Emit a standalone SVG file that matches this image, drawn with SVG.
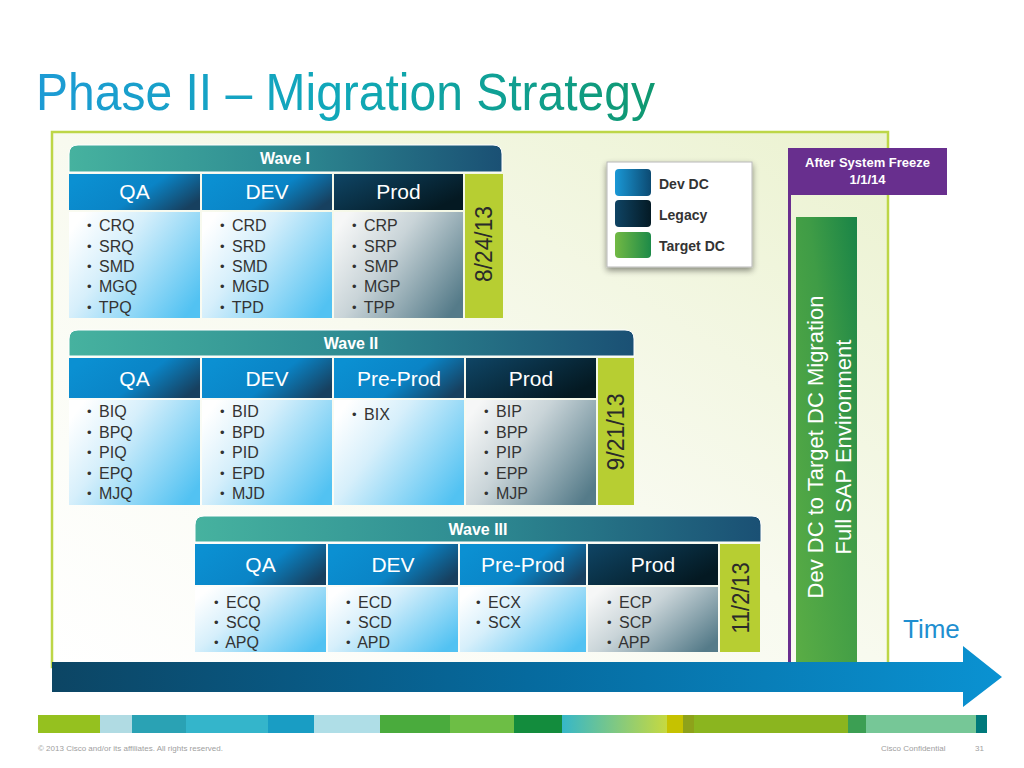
<svg xmlns="http://www.w3.org/2000/svg" width="1024" height="768" viewBox="0 0 1024 768">
<defs>
<linearGradient id="gTitle" gradientUnits="userSpaceOnUse" x1="36" y1="0" x2="655" y2="0"><stop offset="0" stop-color="#1d9bd5"/><stop offset="0.5" stop-color="#10a8b8"/><stop offset="1" stop-color="#0f9870"/></linearGradient>
<linearGradient id="gPanel" x1="0" y1="1" x2="1" y2="0"><stop offset="0" stop-color="#ffffff"/><stop offset="0.5" stop-color="#f8faef"/><stop offset="1" stop-color="#ebf2d0"/></linearGradient>
<linearGradient id="gWave" x1="0" y1="0" x2="1" y2="0"><stop offset="0" stop-color="#46b29f"/><stop offset="0.5" stop-color="#2e8b92"/><stop offset="1" stop-color="#1a5074"/></linearGradient>
<linearGradient id="gHdrBlue" x1="0" y1="0.3" x2="1" y2="0.7"><stop offset="0" stop-color="#0b90d2"/><stop offset="0.55" stop-color="#0a84c6"/><stop offset="1" stop-color="#17405f"/></linearGradient>
<linearGradient id="gHdrDark" x1="0" y1="0" x2="1" y2="0.6"><stop offset="0" stop-color="#0f4565"/><stop offset="1" stop-color="#041922"/></linearGradient>
<linearGradient id="gCellBlue" x1="0" y1="0.2" x2="1" y2="0.8"><stop offset="0" stop-color="#ffffff"/><stop offset="0.35" stop-color="#d6effb"/><stop offset="1" stop-color="#52c2f2"/></linearGradient>
<linearGradient id="gCellGray" x1="0" y1="0.2" x2="1" y2="0.8"><stop offset="0" stop-color="#f6f7f7"/><stop offset="0.4" stop-color="#c9d4d8"/><stop offset="1" stop-color="#557b89"/></linearGradient>
<linearGradient id="gArrow" x1="0" y1="0" x2="1" y2="0"><stop offset="0" stop-color="#0c4564"/><stop offset="0.5" stop-color="#066a9e"/><stop offset="1" stop-color="#0a92d2"/></linearGradient>
<linearGradient id="gGreen" x1="0" y1="1" x2="1" y2="0"><stop offset="0" stop-color="#5aad45"/><stop offset="0.6" stop-color="#3f9c46"/><stop offset="1" stop-color="#198447"/></linearGradient>
<linearGradient id="gLegDev" x1="0" y1="0" x2="1" y2="0"><stop offset="0" stop-color="#1a98d6"/><stop offset="1" stop-color="#0c4a72"/></linearGradient>
<linearGradient id="gLegLeg" x1="0" y1="0" x2="1" y2="0"><stop offset="0" stop-color="#0f4464"/><stop offset="1" stop-color="#041a25"/></linearGradient>
<linearGradient id="gLegTgt" x1="0" y1="0" x2="1" y2="0"><stop offset="0" stop-color="#72b944"/><stop offset="1" stop-color="#1d8a48"/></linearGradient>
<linearGradient id="gStrip" x1="0" y1="0" x2="1" y2="0"><stop offset="0" stop-color="#36b7c8"/><stop offset="1" stop-color="#c6d940"/></linearGradient>
<filter id="shadow" x="-20%" y="-20%" width="140%" height="150%"><feGaussianBlur in="SourceAlpha" stdDeviation="3"/><feOffset dx="0" dy="3"/><feComponentTransfer><feFuncA type="linear" slope="0.45"/></feComponentTransfer><feMerge><feMergeNode/><feMergeNode in="SourceGraphic"/></feMerge></filter>
</defs>
<style>
text{font-family:"Liberation Sans",Arial,sans-serif}
.wt{font-size:16px;font-weight:bold;fill:#fff;text-anchor:middle}
.ht{font-size:21px;fill:#fff;text-anchor:middle}
.bl{font-size:16px;fill:#333}
.b{font-size:13px}
.dt{font-size:23px;fill:#2a2a2a;text-anchor:middle}
.date{fill:#b7ce32}
.lg{font-size:14px;font-weight:bold;fill:#333}
.ft{font-size:8px;fill:#a0a0a0}
</style>
<rect width="1024" height="768" fill="#fff"/>
<text x="36" y="110" font-size="52" fill="url(#gTitle)" textLength="619" lengthAdjust="spacingAndGlyphs">Phase II – Migration Strategy</text>

<g id="panel">
<rect x="52" y="132" width="836" height="535" fill="url(#gPanel)" stroke="#bdd647" stroke-width="2.5"/>
</g>

<g id="wave1">
<path d="M69,172 L69,154 Q69,145 78,145 L493,145 Q502,145 502,154 L502,172 Z" fill="url(#gWave)" stroke="#fff" stroke-width="1"/>
<text class="wt" x="285" y="164">Wave I</text>
<rect x="69" y="174" width="131" height="36" fill="url(#gHdrBlue)"/>
<rect x="202" y="174" width="130" height="36" fill="url(#gHdrBlue)"/>
<rect x="334" y="174" width="129" height="36" fill="url(#gHdrDark)"/>
<text class="ht" x="134.5" y="199">QA</text>
<text class="ht" x="267" y="199">DEV</text>
<text class="ht" x="398.5" y="199">Prod</text>
<rect x="69" y="212" width="131" height="106" fill="url(#gCellBlue)"/>
<rect x="202" y="212" width="130" height="106" fill="url(#gCellBlue)"/>
<rect x="334" y="212" width="129" height="106" fill="url(#gCellGray)"/>
<text class="bl"><tspan class="b" x="87" y="230">•</tspan><tspan dx="3" y="231"> CRQ</tspan><tspan class="b" x="87" y="250.5">•</tspan><tspan dx="3" y="251.5"> SRQ</tspan><tspan class="b" x="87" y="271">•</tspan><tspan dx="3" y="272"> SMD</tspan><tspan class="b" x="87" y="291">•</tspan><tspan dx="3" y="292"> MGQ</tspan><tspan class="b" x="87" y="311.5">•</tspan><tspan dx="3" y="312.5"> TPQ</tspan></text>
<text class="bl"><tspan class="b" x="220" y="230">•</tspan><tspan dx="3" y="231"> CRD</tspan><tspan class="b" x="220" y="250.5">•</tspan><tspan dx="3" y="251.5"> SRD</tspan><tspan class="b" x="220" y="271">•</tspan><tspan dx="3" y="272"> SMD</tspan><tspan class="b" x="220" y="291">•</tspan><tspan dx="3" y="292"> MGD</tspan><tspan class="b" x="220" y="311.5">•</tspan><tspan dx="3" y="312.5"> TPD</tspan></text>
<text class="bl"><tspan class="b" x="352" y="230">•</tspan><tspan dx="3" y="231"> CRP</tspan><tspan class="b" x="352" y="250.5">•</tspan><tspan dx="3" y="251.5"> SRP</tspan><tspan class="b" x="352" y="271">•</tspan><tspan dx="3" y="272"> SMP</tspan><tspan class="b" x="352" y="291">•</tspan><tspan dx="3" y="292"> MGP</tspan><tspan class="b" x="352" y="311.5">•</tspan><tspan dx="3" y="312.5"> TPP</tspan></text>
<rect class="date" x="465" y="174" width="38" height="144"/>
<text class="dt" transform="translate(492,244) rotate(-90)" textLength="76" lengthAdjust="spacingAndGlyphs">8/24/13</text>
</g>

<g id="wave2">
<path d="M69,356 L69,339 Q69,330 78,330 L625,330 Q634,330 634,339 L634,356 Z" fill="url(#gWave)" stroke="#fff" stroke-width="1"/>
<text class="wt" x="351" y="349">Wave  II</text>
<rect x="69" y="358" width="131" height="40" fill="url(#gHdrBlue)"/>
<rect x="202" y="358" width="130" height="40" fill="url(#gHdrBlue)"/>
<rect x="334" y="358" width="130" height="40" fill="url(#gHdrBlue)"/>
<rect x="466" y="358" width="130" height="40" fill="url(#gHdrDark)"/>
<text class="ht" x="134.5" y="386">QA</text>
<text class="ht" x="267" y="386">DEV</text>
<text class="ht" x="399" y="386">Pre-Prod</text>
<text class="ht" x="531" y="386">Prod</text>
<rect x="69" y="400" width="131" height="105" fill="url(#gCellBlue)"/>
<rect x="202" y="400" width="130" height="105" fill="url(#gCellBlue)"/>
<rect x="334" y="400" width="130" height="105" fill="url(#gCellBlue)"/>
<rect x="466" y="400" width="130" height="105" fill="url(#gCellGray)"/>
<text class="bl"><tspan class="b" x="87" y="416">•</tspan><tspan dx="3" y="417"> BIQ</tspan><tspan class="b" x="87" y="436.5">•</tspan><tspan dx="3" y="437.5"> BPQ</tspan><tspan class="b" x="87" y="457">•</tspan><tspan dx="3" y="458"> PIQ</tspan><tspan class="b" x="87" y="477.5">•</tspan><tspan dx="3" y="478.5"> EPQ</tspan><tspan class="b" x="87" y="498">•</tspan><tspan dx="3" y="499"> MJQ</tspan></text>
<text class="bl"><tspan class="b" x="220" y="416">•</tspan><tspan dx="3" y="417"> BID</tspan><tspan class="b" x="220" y="436.5">•</tspan><tspan dx="3" y="437.5"> BPD</tspan><tspan class="b" x="220" y="457">•</tspan><tspan dx="3" y="458"> PID</tspan><tspan class="b" x="220" y="477.5">•</tspan><tspan dx="3" y="478.5"> EPD</tspan><tspan class="b" x="220" y="498">•</tspan><tspan dx="3" y="499"> MJD</tspan></text>
<text class="bl"><tspan class="b" x="352" y="419">•</tspan><tspan dx="3" y="420"> BIX</tspan></text>
<text class="bl"><tspan class="b" x="484" y="416">•</tspan><tspan dx="3" y="417"> BIP</tspan><tspan class="b" x="484" y="436.5">•</tspan><tspan dx="3" y="437.5"> BPP</tspan><tspan class="b" x="484" y="457">•</tspan><tspan dx="3" y="458"> PIP</tspan><tspan class="b" x="484" y="477.5">•</tspan><tspan dx="3" y="478.5"> EPP</tspan><tspan class="b" x="484" y="498">•</tspan><tspan dx="3" y="499"> MJP</tspan></text>
<rect class="date" x="598" y="358" width="36" height="147"/>
<text class="dt" transform="translate(624,432) rotate(-90)" textLength="77" lengthAdjust="spacingAndGlyphs">9/21/13</text>
</g>

<g id="wave3">
<path d="M195,542 L195,525 Q195,516 204,516 L752,516 Q761,516 761,525 L761,542 Z" fill="url(#gWave)" stroke="#fff" stroke-width="1"/>
<text class="wt" x="478" y="535">Wave  III</text>
<rect x="195" y="544" width="131" height="41" fill="url(#gHdrBlue)"/>
<rect x="328" y="544" width="130" height="41" fill="url(#gHdrBlue)"/>
<rect x="460" y="544" width="126" height="41" fill="url(#gHdrBlue)"/>
<rect x="588" y="544" width="130" height="41" fill="url(#gHdrDark)"/>
<text class="ht" x="260.5" y="572">QA</text>
<text class="ht" x="393" y="572">DEV</text>
<text class="ht" x="523" y="572">Pre-Prod</text>
<text class="ht" x="653" y="572">Prod</text>
<rect x="195" y="587" width="131" height="65" fill="url(#gCellBlue)"/>
<rect x="328" y="587" width="130" height="65" fill="url(#gCellBlue)"/>
<rect x="460" y="587" width="126" height="65" fill="url(#gCellBlue)"/>
<rect x="588" y="587" width="130" height="65" fill="url(#gCellGray)"/>
<text class="bl"><tspan class="b" x="214" y="607">•</tspan><tspan dx="3" y="608"> ECQ</tspan><tspan class="b" x="214" y="627">•</tspan><tspan dx="3" y="628"> SCQ</tspan><tspan class="b" x="214" y="647">•</tspan><tspan dx="3" y="648"> APQ</tspan></text>
<text class="bl"><tspan class="b" x="346" y="607">•</tspan><tspan dx="3" y="608"> ECD</tspan><tspan class="b" x="346" y="627">•</tspan><tspan dx="3" y="628"> SCD</tspan><tspan class="b" x="346" y="647">•</tspan><tspan dx="3" y="648"> APD</tspan></text>
<text class="bl"><tspan class="b" x="476" y="607">•</tspan><tspan dx="3" y="608"> ECX</tspan><tspan class="b" x="476" y="627">•</tspan><tspan dx="3" y="628"> SCX</tspan></text>
<text class="bl"><tspan class="b" x="607" y="607">•</tspan><tspan dx="3" y="608"> ECP</tspan><tspan class="b" x="607" y="627">•</tspan><tspan dx="3" y="628"> SCP</tspan><tspan class="b" x="607" y="647">•</tspan><tspan dx="3" y="648"> APP</tspan></text>
<rect class="date" x="720" y="544" width="40" height="108"/>
<text class="dt" transform="translate(749,598) rotate(-90)" textLength="71" lengthAdjust="spacingAndGlyphs">11/2/13</text>
</g>

<g id="legend">
<rect x="607" y="162" width="145" height="105" fill="#fff" stroke="#b8b8b8" stroke-width="1" filter="url(#shadow)"/>
<rect x="615" y="169" width="36" height="27" rx="4" fill="url(#gLegDev)"/>
<rect x="615" y="200" width="36" height="27" rx="4" fill="url(#gLegLeg)"/>
<rect x="615" y="232" width="36" height="26" rx="4" fill="url(#gLegTgt)"/>
<text class="lg" x="659" y="189">Dev DC</text>
<text class="lg" x="659" y="220">Legacy</text>
<text class="lg" x="659" y="251">Target DC</text>
</g>

<g id="migration">
<rect x="796" y="217" width="61" height="445" fill="url(#gGreen)"/>
<text font-size="22" fill="#fff" text-anchor="middle" transform="translate(823,447) rotate(-90)">Dev DC to Target DC Migration</text>
<text font-size="22" fill="#fff" text-anchor="middle" transform="translate(851,447) rotate(-90)">Full SAP Environment</text>
</g>

<g id="freeze">
<rect x="788" y="148" width="159" height="47" fill="#682f8e"/>
<text x="867.5" y="167" font-size="13" font-weight="bold" fill="#fff" text-anchor="middle">After System Freeze</text>
<text x="867.5" y="184" font-size="13" font-weight="bold" fill="#fff" text-anchor="middle">1/1/14</text>
</g>

<g id="connectors">
<line x1="789.5" y1="195" x2="789.5" y2="662" stroke="#6a2e8f" stroke-width="3"/>
<polygon points="52,662 963,662 963,646 1002,677 963,707 963,692 52,692" fill="url(#gArrow)"/>
</g>

<g id="time">
<text x="903" y="638" font-size="26" fill="#1f8fd0">Time</text>
</g>

<g id="strip">
<rect x="38" y="715" width="62" height="18" fill="#95c11f"/>
<rect x="100" y="715" width="32" height="18" fill="#b0dbe3"/>
<rect x="132" y="715" width="54" height="18" fill="#2aa2b4"/>
<rect x="186" y="715" width="82" height="18" fill="#34b5cb"/>
<rect x="268" y="715" width="46" height="18" fill="#199dc4"/>
<rect x="314" y="715" width="66" height="18" fill="#afdee7"/>
<rect x="380" y="715" width="70" height="18" fill="#4aab3d"/>
<rect x="450" y="715" width="64" height="18" fill="#6dbe45"/>
<rect x="514" y="715" width="48" height="18" fill="#138c3d"/>
<rect x="562" y="715" width="105" height="18" fill="url(#gStrip)"/>
<rect x="667" y="715" width="16" height="18" fill="#c6c200"/>
<rect x="683" y="715" width="11" height="18" fill="#8ea21a"/>
<rect x="694" y="715" width="154" height="18" fill="#8bb51f"/>
<rect x="848" y="715" width="18" height="18" fill="#3c9f53"/>
<rect x="866" y="715" width="110" height="18" fill="#76c797"/>
<rect x="976" y="715" width="11" height="18" fill="#00797b"/>
</g>

<g id="footer">
<text class="ft" x="38" y="751">© 2013 Cisco and/or its affiliates. All rights reserved.</text>
<text class="ft" x="881" y="751">Cisco Confidential</text>
<text class="ft" x="975" y="751">31</text>
</g>
</svg>
